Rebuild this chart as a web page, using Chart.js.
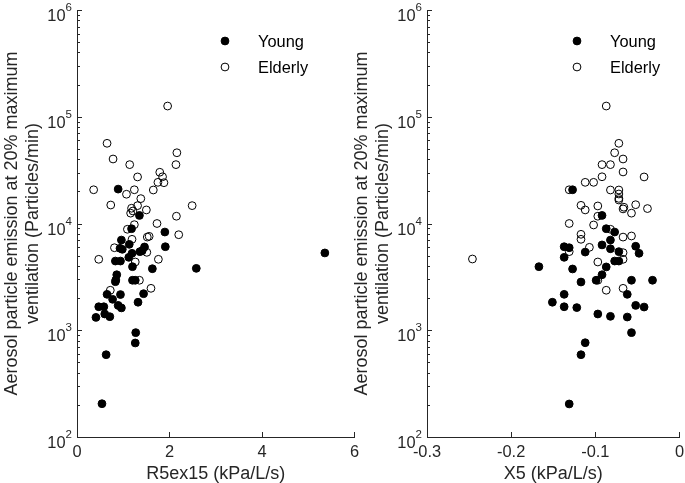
<!DOCTYPE html>
<html><head><meta charset="utf-8">
<script src="https://cdn.jsdelivr.net/npm/chart.js@4.4.0/dist/chart.umd.min.js"></script>
<style>
html,body{margin:0;padding:0;background:#fff;width:685px;height:483px;overflow:hidden;position:relative;}
canvas{position:absolute;top:0;}
#c1{left:0;}
#c2{left:350px;}
</style></head><body>
<canvas id="c1" width="365" height="483" style="width:365px;height:483px"></canvas>
<canvas id="c2" width="340" height="483" style="width:340px;height:483px"></canvas>
<script>
// ---- data ----
const leftYoungX = [0.89,1.35,1.18,1.90,0.96,1.13,0.93,0.98,1.46,1.91,1.19,1.36,1.41,1.12,0.83,0.94,1.20,1.63,2.58,0.86,0.84,0.83,1.20,1.26,0.65,0.94,1.44,0.77,0.89,0.96,1.32,0.47,0.58,0.60,0.71,0.41,1.27,1.26,0.63,0.54,5.36];
const leftYoungY = [21000,11900,8940,8320,7000,6380,5860,5730,6030,6060,5260,5450,5560,4820,4450,4450,3940,3770,3800,3310,2960,2850,2940,2940,2170,2160,2200,1950,1710,1620,1830,1660,1660,1420,1340,1320,950,760,590,205,5300];
const leftElderX = [1.96,0.65,2.16,0.78,1.14,2.14,1.79,1.31,1.85,1.75,1.88,0.36,1.24,1.65,1.07,1.38,0.73,1.31,2.49,1.18,1.50,1.16,1.21,2.15,1.24,1.73,1.09,2.20,1.52,1.56,1.19,0.81,1.51,0.47,1.26,1.76,1.35,1.60,0.72];
const leftElderY = [126000,56400,46000,40200,35600,35600,30200,27300,27400,24300,24100,20700,20700,20600,18800,17100,14900,14700,14700,13900,13400,12500,13100,11700,9750,10000,8830,7850,7460,7580,7110,5930,5370,4620,4360,4620,2940,2470,2370];
const rightYoungX = [-0.127,-0.092,-0.087,-0.077,-0.082,-0.137,-0.131,-0.092,-0.052,-0.082,-0.112,-0.072,-0.048,-0.137,-0.077,-0.072,-0.087,-0.127,-0.092,-0.099,-0.117,-0.057,-0.032,-0.062,-0.137,-0.151,-0.137,-0.122,-0.052,-0.042,-0.097,-0.082,-0.062,-0.057,-0.112,-0.117,-0.131,-0.167];
const rightYoungY = [20700,11900,8940,8320,7000,6060,5930,6300,6120,5800,5400,5450,5260,4820,4450,4450,3920,3750,3310,2940,2830,2940,2940,2170,2170,1830,1660,1630,1710,1650,1420,1350,1330,950,764,590,204,3940];
const rightElderX = [-0.087,-0.072,-0.077,-0.067,-0.092,-0.082,-0.067,-0.092,-0.112,-0.102,-0.042,-0.131,-0.082,-0.072,-0.072,-0.072,-0.117,-0.097,-0.066,-0.052,-0.038,-0.112,-0.097,-0.072,-0.067,-0.057,-0.131,-0.102,-0.082,-0.117,-0.117,-0.067,-0.057,-0.107,-0.131,-0.067,-0.067,-0.097,-0.097,-0.087,-0.067,-0.246];
const rightElderY = [126000,56400,46000,40200,35600,35600,30400,27400,24300,24300,27300,20700,20600,20600,18900,17200,14800,14600,14200,15000,13800,13400,11700,16600,13700,12500,10000,9690,8830,7920,7110,7460,7640,5980,5450,5330,4620,4360,2940,2370,2470,4650];
const leftXTicks = [0,2,4,6];
const rightXTicks = [-0.3,-0.2,-0.1,0];
const yExponents = [2,3,4,5,6];
const seriesNames = ['Young','Elderly'];
const leftXTitle = 'R5ex15 (kPa/L/s)';
const rightXTitle = 'X5 (kPa/L/s)';
const yTitle = ['Aerosol particle emission at 20% maximum','ventilation (Particles/min)'];

// ---- styling ----
const FONT = "'Liberation Sans', Arial, Helvetica, sans-serif";
const TXT = '#262626';
const AX = '#262626';
const R = 3.9;

function zip(xs, ys){ return xs.map((x,i)=>({x:x, y:ys[i]})); }

const decoPlugin = {
  id:'deco',
  afterDraw(chart, args, opts){
    const ctx = chart.ctx, xs = chart.scales.x, ys = chart.scales.y, a = chart.chartArea;
    ctx.save();
    ctx.strokeStyle = AX; ctx.lineWidth = 1;
    const line=(x1,y1,x2,y2)=>{ctx.beginPath();ctx.moveTo(x1,y1);ctx.lineTo(x2,y2);ctx.stroke();};
    yExponents.forEach((p,i)=>{
      const y = Math.round(ys.getPixelForValue(Math.pow(10,p)))+0.5;
      line(a.left, y, a.left+5, y);
      if (i < yExponents.length-1) {
        for (let m=2;m<=9;m++){
          const ym = Math.round(ys.getPixelForValue(m*Math.pow(10,p)))+0.5;
          line(a.left, ym, a.left+3, ym);
        }
      }
    });
    opts.xTicks.forEach(v=>{
      const x = Math.round(xs.getPixelForValue(v))+0.5;
      line(x, a.bottom, x, a.bottom-5);
    });
    // y tick labels 10^n
    ctx.fillStyle = TXT; ctx.textBaseline = 'alphabetic'; ctx.textAlign='right';
    yExponents.forEach(p=>{
      const y = ys.getPixelForValue(Math.pow(10,p));
      ctx.font = '11.5px ' + FONT;
      const ew = ctx.measureText(String(p)).width;
      ctx.fillText(String(p), a.left-5, y+1);
      ctx.font = '16.4px ' + FONT;
      ctx.fillText('10', a.left-5-ew, y+11);
    });
    // legend
    const lx = opts.legendX, ly = opts.legendY;
    ctx.textAlign='left'; ctx.textBaseline='middle'; ctx.font='16.4px '+FONT; ctx.fillStyle='#000';
    seriesNames.forEach((name,i)=>{
      const yy = ly + i*26;
      ctx.beginPath(); ctx.arc(lx, yy, R, 0, Math.PI*2);
      if (i===0){ ctx.fillStyle='#000'; ctx.fill(); }
      ctx.strokeStyle='#000'; ctx.stroke();
      ctx.fillStyle='#000';
      ctx.fillText(name, lx+33, yy+1);
    });
    ctx.restore();
  }
};

function makeChart(id, yx, yy, ex, ey, xTicks, xTitle, rightPad, legendX){
  return new Chart(document.getElementById(id), {
    type:'scatter',
    data:{datasets:[
      {label:seriesNames[0], data:zip(yx,yy), pointRadius:R, pointHoverRadius:R, pointBackgroundColor:'#000', pointBorderColor:'#000', pointBorderWidth:1},
      {label:seriesNames[1], data:zip(ex,ey), pointRadius:R, pointHoverRadius:R, pointBackgroundColor:'rgba(0,0,0,0)', pointBorderColor:'#000', pointBorderWidth:1}
    ]},
    options:{
      responsive:false, animation:false, events:[],
      layout:{padding:{top:10,left:0,right:rightPad,bottom:0}},
      plugins:{legend:{display:false}, tooltip:{enabled:false}, deco:{xTicks:xTicks, legendX:legendX, legendY:41}},
      scales:{
        x:{type:'linear', min:xTicks[0], max:xTicks[xTicks.length-1],
          afterBuildTicks:s=>{s.ticks = xTicks.map(v=>({value:v}));},
          ticks:{font:{family:FONT,size:16.4}, color:TXT, padding:6, maxRotation:0, autoSkip:false, callback:v=>String(v)},
          grid:{display:false, drawTicks:false},
          border:{display:true, color:AX, width:1},
          title:{display:true, text:xTitle, color:TXT, font:{family:FONT,size:18,lineHeight:1}, padding:{top:0,bottom:0}},
          afterFit:s=>{s.height=46;}
        },
        y:{type:'logarithmic', min:100, max:1e6,
          ticks:{display:false},
          grid:{display:false, drawTicks:false},
          border:{display:true, color:AX, width:1},
          title:{display:true, text:yTitle, color:TXT, font:{family:FONT,size:18,lineHeight:1.2}, padding:{top:1,bottom:0}},
          afterFit:s=>{s.width=77;}
        }
      }
    },
    plugins:[decoPlugin]
  });
}

makeChart('c1', leftYoungX, leftYoungY, leftElderX, leftElderY, leftXTicks, leftXTitle, 10, 225);
makeChart('c2', rightYoungX, rightYoungY, rightElderX, rightElderY, rightXTicks, rightXTitle, 8, 227);
</script>
</body></html>
